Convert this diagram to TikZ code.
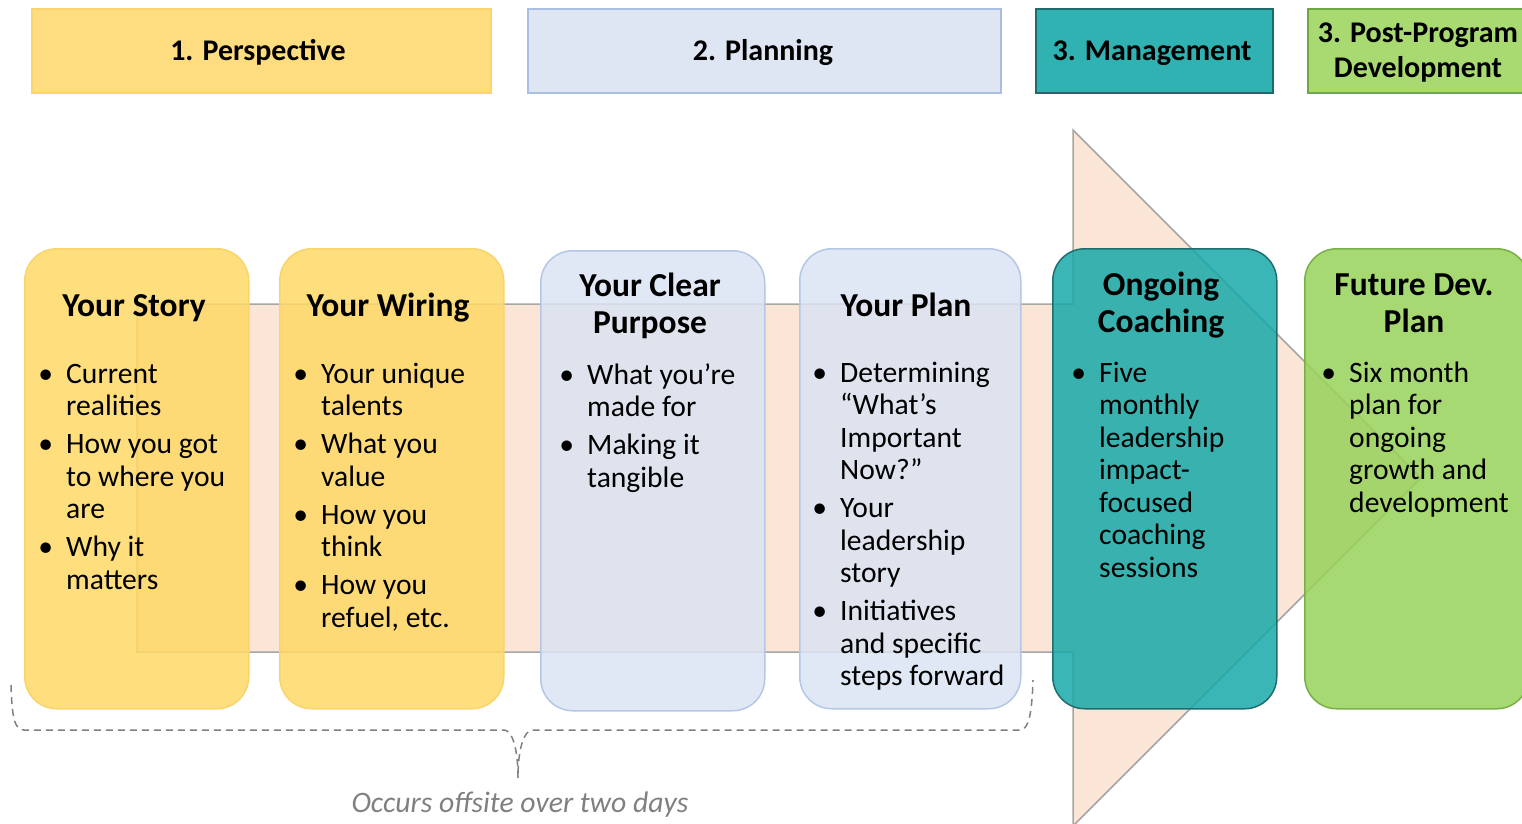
\documentclass[tikz,border=0pt]{standalone}
\usepackage{fontspec}
\setmainfont{Carlito}
\definecolor{peach}{HTML}{FBE5D6}
\definecolor{arrline}{HTML}{A6A6A6}
\definecolor{yel}{HTML}{FFD966}
\definecolor{yelline}{HTML}{F8D46A}
\definecolor{blu}{HTML}{DAE3F3}
\definecolor{bluline}{HTML}{B4C7E7}
\definecolor{tea}{HTML}{17A9A9}
\definecolor{tealine}{HTML}{1E6E6E}
\definecolor{grn}{HTML}{98D25A}
\definecolor{grnline}{HTML}{78B048}
\definecolor{hyel}{HTML}{FEDC80}
\definecolor{hyelline}{HTML}{FBD46E}
\definecolor{hblu}{HTML}{DEE6F4}
\definecolor{hbluline}{HTML}{A9BEE3}
\definecolor{htea}{HTML}{31B2B2}
\definecolor{htealine}{HTML}{1E6B6B}
\definecolor{hgrn}{HTML}{A9D971}
\definecolor{hgrnline}{HTML}{6FA843}
\definecolor{bracegray}{HTML}{808080}
\newcommand\bu{\llap{\textbullet\hspace{13pt}}}
\begin{document}
\begin{tikzpicture}[x=1pt,y=-1pt,
  card/.style={draw, line width=1.5pt, rounded corners=32pt, fill opacity=0.85,
    minimum width=224pt, minimum height=460pt, anchor=north west, inner sep=0pt},
  hdr/.style={draw, line width=1.5pt, minimum height=84pt, anchor=north west, inner sep=0pt},
  ttl/.style={anchor=base, inner sep=0pt, font=\fontsize{33.5}{37.5}\selectfont\bfseries},
  htxt/.style={anchor=base, inner sep=0pt, font=\fontsize{30}{35}\selectfont\bfseries},
  blist/.style={anchor=base west, inner sep=0pt, font=\fontsize{29.6}{32.5}\selectfont}]
\useasboundingbox (0,0) rectangle (1522,823);

% headers
\node[hdr, fill=hyel, draw=hyelline, minimum width=459pt] (h1) at (31,8) {};
\node[hdr, fill=hblu, draw=hbluline, minimum width=473pt] (h2) at (527,8) {};
\node[hdr, fill=htea, draw=htealine, minimum width=237pt] (h3) at (1035,8) {};
\node[hdr, fill=hgrn, draw=hgrnline, minimum width=240pt] (h4) at (1307,8) {};
\node[htxt] (h1t) at (258,60) {1. Perspective};
\node[htxt] (h2t) at (763,60) {2. Planning};
\node[htxt] (h3t) at (1152,60) {3. Management};
\node[htxt] (h4t) at (1418,42) {\begin{tabular}[t]{@{}c@{}}3. Post-Program\\ Development\end{tabular}};

% big arrow
\draw[fill=peach, draw=arrline, line width=1.5pt]
  (137,304) -- (1073,304) -- (1073,130) -- (1421,478) -- (1073,826) -- (1073,652) -- (137,652) -- cycle;

% cards
\node[card, fill=yel, draw=yelline] (c1) at (24,248) {};
\node[card, fill=yel, draw=yelline] (c2) at (279,248) {};
\node[card, fill=blu, draw=bluline] (c3) at (540,250) {};
\node[card, fill=blu, draw=bluline, minimum width=221pt] (c4) at (799,248) {};
\node[card, fill=tea, draw=tealine] (c5) at (1052,248) {};
\node[card, fill=grn, draw=grnline] (c6) at (1304,248) {};

% titles
\node[ttl] (t1) at (134,316) {Your Story};
\node[ttl] (t2) at (388,316) {Your Wiring};
\node[ttl] (t3) at (650,296) {\begin{tabular}[t]{@{}c@{}}Your Clear\\ Purpose\end{tabular}};
\node[ttl] (t4) at (906,316) {Your Plan};
\node[ttl] (t5) at (1161,295) {\begin{tabular}[t]{@{}c@{}}Ongoing\\ Coaching\end{tabular}};
\node[ttl] (t6) at (1414,295) {\begin{tabular}[t]{@{}c@{}}Future Dev.\\ Plan\end{tabular}};

% bullet lists
\node[blist] (b1) at (66,383) {\begin{tabular}[t]{@{}l@{}}\bu Current\\ realities\\[5.5pt]
  \bu How you got\\ to where you\\ are\\[5.5pt] \bu Why it\\ matters\end{tabular}};
\node[blist] (b2) at (321,383) {\begin{tabular}[t]{@{}l@{}}\bu Your unique\\ talents\\[5.5pt]
  \bu What you\\ value\\[5.5pt] \bu How you\\ think\\[5.5pt] \bu How you\\ refuel, etc.\end{tabular}};
\node[blist] (b3) at (587,384) {\begin{tabular}[t]{@{}l@{}}\bu What you’re\\ made for\\[5.5pt]
  \bu Making it\\ tangible\end{tabular}};
\node[blist] (b4) at (840,382) {\begin{tabular}[t]{@{}l@{}}\bu Determining\\ “What’s\\ Important\\ Now?”\\[5.5pt]
  \bu Your\\ leadership\\ story\\[5.5pt] \bu Initiatives\\ and specific\\ steps forward\end{tabular}};
\node[blist] (b5) at (1099,382) {\begin{tabular}[t]{@{}l@{}}\bu Five\\ monthly\\ leadership\\ impact-\\ focused\\ coaching\\ sessions\end{tabular}};
\node[blist] (b6) at (1349,382) {\begin{tabular}[t]{@{}l@{}}\bu Six month\\ plan for\\ ongoing\\ growth and\\ development\end{tabular}};

% brace
\coordinate (bl) at (11,685);
\coordinate (bm) at (518,778);
\coordinate (br) at (1033,680);
\draw[bracegray, line width=1.5pt, dash pattern=on 7pt off 5pt]
  (bl) .. controls (12,716) and (14,730) .. (24,730) -- (504,730)
  .. controls (512,730) and (518,748) .. (bm)
  .. controls (518,748) and (524,731) .. (532,730) -- (1020,730)
  .. controls (1029,730) and (1032,712) .. (br);
\node[anchor=base, inner sep=0pt, text=bracegray, font=\fontsize{29.7}{32}\selectfont\itshape] (note) at (520,812) {Occurs offsite over two days};
\end{tikzpicture}
\end{document}
